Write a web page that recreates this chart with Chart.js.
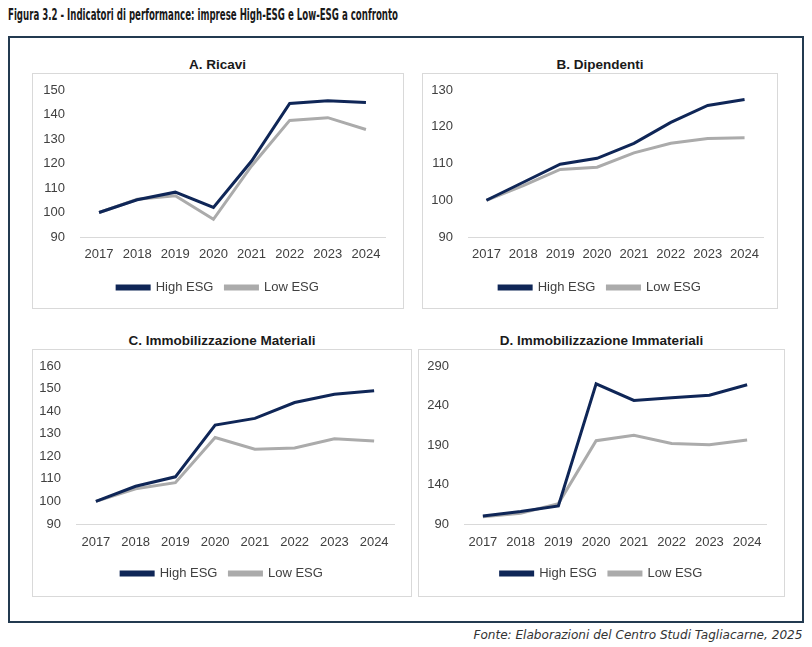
<!DOCTYPE html>
<html lang="it">
<head>
<meta charset="utf-8">
<title>Figura 3.2</title>
<script src="https://cdn.jsdelivr.net/npm/chart.js@4.4.1/dist/chart.umd.min.js"></script>
<style>
  html, body { margin: 0; padding: 0; background: #fff; }
  body { width: 812px; height: 647px; position: relative; overflow: hidden; font-family: "Liberation Sans", Arial, sans-serif; }
  .fig-title { position: absolute; left: 8px; top: 5px; font: bold 16px "DejaVu Sans Condensed", "DejaVu Sans", sans-serif; color: #1a1a1a; white-space: nowrap; transform-origin: 0 50%; }
  .source { position: absolute; right: 10px; top: 627px; font: italic 12.5px "DejaVu Sans Condensed", "DejaVu Sans", sans-serif; color: #333; white-space: nowrap; transform-origin: 100% 50%; }
  .frame { position: absolute; left: 8px; top: 36px; width: 792px; height: 583px; border: 2px solid #233a50; box-sizing: content-box; }
  .panel-title { position: absolute; font: bold 13.5px "Liberation Sans", Arial, sans-serif; color: #1a1a1a; text-align: center; white-space: nowrap; }
  .box { position: absolute; border: 1px solid #d9d9d9; box-sizing: border-box; background: #fff; }
  .box canvas { position: absolute; left: 0; top: 0; }
</style>
</head>
<body>
<div class="fig-title" id="figTitle">Figura 3.2 - Indicatori di performance: imprese High-ESG e Low-ESG a confronto</div>
<div class="frame"></div>

<div class="panel-title" style="left:32px; width:371px; top:57px;">A. Ricavi</div>
<div class="box" style="left:32px; top:73px; width:372px; height:236px;"><canvas id="chartA"></canvas></div>

<div class="panel-title" style="left:422px; width:356px; top:57px;">B. Dipendenti</div>
<div class="box" style="left:422px; top:73px; width:356px; height:236px;"><canvas id="chartB"></canvas></div>

<div class="panel-title" style="left:32px; width:380px; top:333px;">C. Immobilizzazione Materiali</div>
<div class="box" style="left:32px; top:349px; width:380px; height:248px;"><canvas id="chartC"></canvas></div>

<div class="panel-title" style="left:418px; width:367px; top:333px;">D. Immobilizzazione Immateriali</div>
<div class="box" style="left:418px; top:349px; width:367px; height:248px;"><canvas id="chartD"></canvas></div>

<div class="source" id="source">Fonte: Elaborazioni del Centro Studi Tagliacarne, 2025</div>

<script>
'use strict';

const years = ['2017', '2018', '2019', '2020', '2021', '2022', '2023', '2024'];

// A. Ricavi
const ricaviHigh = [100, 105.2, 108.3, 102.1, 121, 144.5, 145.6, 144.9];
const ricaviLow = [100, 105.4, 106.8, 97.2, 119, 137.6, 138.7, 133.9];
const ricaviTicks = [90, 100, 110, 120, 130, 140, 150];

// B. Dipendenti
const dipHigh = [100, 104.9, 109.8, 111.4, 115.5, 121.2, 125.8, 127.4];
const dipLow = [100, 104, 108.4, 109, 112.9, 115.5, 116.8, 117];
const dipTicks = [90, 100, 110, 120, 130];

// C. Immobilizzazione Materiali
const matHigh = [100, 106.7, 110.9, 133.8, 136.8, 143.8, 147.5, 149];
const matLow = [100, 105.6, 108.3, 128.3, 123.1, 123.7, 127.8, 126.8];
const matTicks = [90, 100, 110, 120, 130, 140, 150, 160];

// D. Immobilizzazione Immateriali
const immHigh = [100.2, 105.7, 112.9, 267.5, 246.4, 249.7, 253, 266.3];
const immLow = [99.3, 103.6, 115.8, 195.5, 202.3, 192, 190.4, 196.4];
const immTicks = [90, 140, 190, 240, 290];

const seriesNames = ['High ESG', 'Low ESG'];
const HIGH_COLOR = '#0f2657';
const LOW_COLOR = '#ababab';
const TEXT_COLOR = '#404040';

// fit the narrow caption fonts to the width they take in the reference
function fitWidth(id, target) {
    const el = document.getElementById(id);
    const w = el.getBoundingClientRect().width;
    el.style.transform = 'scaleX(' + (target / w) + ')';
}
fitWidth('figTitle', 390);
fitWidth('source', 329);

function makeChart(id, w, h, high, low, ticks, opts) {
    const canvas = document.getElementById(id);
    canvas.width = w;
    canvas.height = h;
    canvas.style.width = w + 'px';
    canvas.style.height = h + 'px';

    return new Chart(canvas.getContext('2d'), {
        type: 'line',
        data: {
            labels: years,
            datasets: [{
                label: seriesNames[0],
                data: high,
                borderColor: HIGH_COLOR,
                backgroundColor: HIGH_COLOR,
                borderWidth: 3,
                pointRadius: 0,
                tension: 0,
                order: 1
            }, {
                label: seriesNames[1],
                data: low,
                borderColor: LOW_COLOR,
                backgroundColor: LOW_COLOR,
                borderWidth: 3,
                pointRadius: 0,
                tension: 0,
                order: 2
            }]
        },
        options: {
            responsive: false,
            animation: false,
            devicePixelRatio: 1,
            layout: {
                padding: { left: 0, right: 0, top: 16, bottom: opts.bottom }
            },
            plugins: {
                legend: {
                    position: 'bottom',
                    labels: {
                        color: TEXT_COLOR,
                        font: { family: 'Liberation Sans', size: 13 },
                        boxWidth: 32,
                        boxHeight: 3,
                        padding: 12
                    }
                },
                tooltip: { enabled: false }
            },
            scales: {
                x: {
                    offset: true,
                    afterFit: (axis) => { axis.height = opts.xHeight; },
                    grid: { display: false, drawTicks: false },
                    border: { display: true, color: '#d9d9d9', width: 1 },
                    ticks: {
                        color: TEXT_COLOR,
                        font: { family: 'Liberation Sans', size: 13 },
                        padding: opts.xPad,
                        maxRotation: 0,
                        autoSkip: false
                    }
                },
                y: {
                    min: ticks[0],
                    max: ticks[ticks.length - 1],
                    afterBuildTicks: (axis) => { axis.ticks = ticks.map(v => ({ value: v })); },
                    afterFit: (axis) => {
                        axis.width = opts.axisWidth;
                        axis.paddingTop = 0;
                        axis.paddingBottom = 0;
                    },
                    grid: { display: false, drawTicks: false },
                    border: { display: false },
                    ticks: {
                        color: TEXT_COLOR,
                        font: { family: 'Liberation Sans', size: 13 },
                        padding: 15
                    }
                },
                // empty right-hand axis: keeps the margin right of the plot without moving the legend off-centre
                yRight: {
                    position: 'right',
                    min: ticks[0],
                    max: ticks[ticks.length - 1],
                    afterFit: (axis) => {
                        axis.width = opts.right;
                        axis.paddingTop = 0;
                        axis.paddingBottom = 0;
                    },
                    grid: { display: false, drawTicks: false },
                    border: { display: false },
                    ticks: { display: false }
                }
            }
        }
    });
}

makeChart('chartA', 370, 234, ricaviHigh, ricaviLow, ricaviTicks, { axisWidth: 47, right: 18, bottom: 4, xHeight: 32, xPad: 10 });
makeChart('chartB', 354, 234, dipHigh, dipLow, dipTicks, { axisWidth: 45, right: 14, bottom: 4, xHeight: 32, xPad: 10 });
makeChart('chartC', 378, 246, matHigh, matLow, matTicks, { axisWidth: 43, right: 17, bottom: 6, xHeight: 31, xPad: 11 });
makeChart('chartD', 365, 246, immHigh, immLow, immTicks, { axisWidth: 45, right: 18, bottom: 6, xHeight: 31, xPad: 11 });
</script>
</body>
</html>
